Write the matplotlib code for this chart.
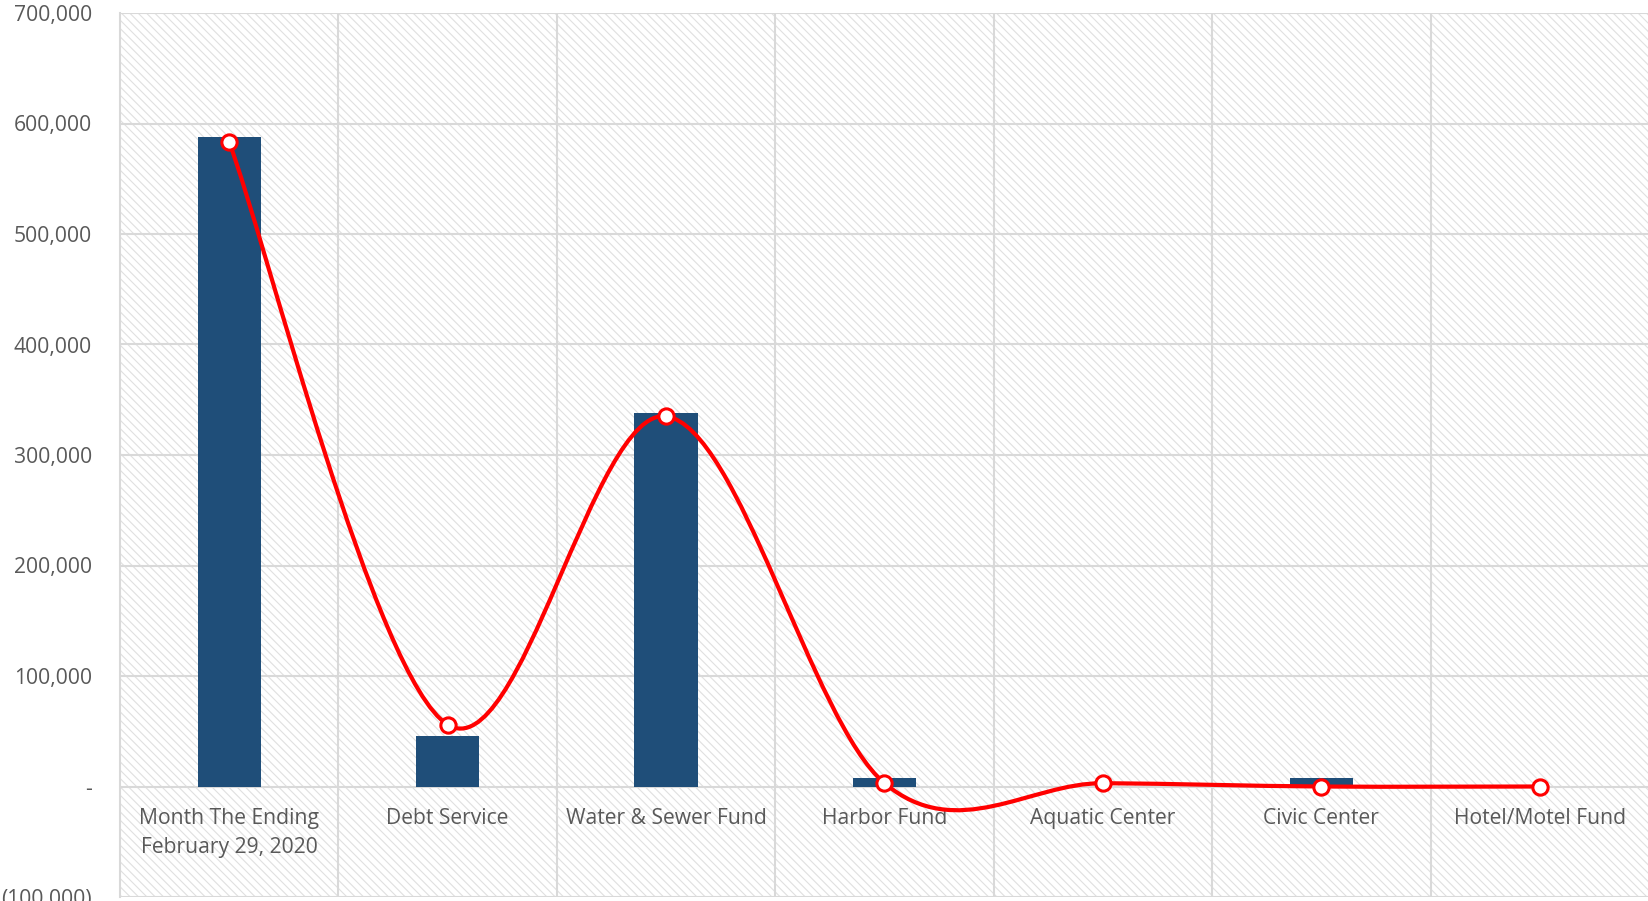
import numpy as np
import matplotlib
matplotlib.use('Agg')
import matplotlib.pyplot as plt
from matplotlib.path import Path
from matplotlib.patches import PathPatch, Rectangle
from matplotlib.ticker import FuncFormatter, MultipleLocator

categories = ['Month The Ending\nFebruary 29, 2020', 'Debt Service', 'Water & Sewer Fund',
              'Harbor Fund', 'Aquatic Center', 'Civic Center', 'Hotel/Motel Fund']
bar_values = [588000, 45500, 338000, 7500, 0, 7500, 0]
line_values = [583000, 56000, 335000, 3000, 3000, 0, 0]

plt.rcParams['font.family'] = ['Open Sans', 'DejaVu Sans']
plt.rcParams['hatch.linewidth'] = 0.8
txt = '#595959'
grid = '#d9d9d9'

fig = plt.figure(figsize=(16.49, 9.01), dpi=100)
ax = fig.add_axes([120 / 1649, 4 / 901, 1529 / 1649, 884 / 901])

x = np.arange(len(categories))

# hatched background
bg = Rectangle((0, 0), 1, 1, transform=ax.transAxes, fill=False, hatch='\\\\\\\\',
               edgecolor='#e0e0e0', linewidth=0, zorder=0)
ax.add_patch(bg)

ax.bar(x, bar_values, width=0.29, color='#1f4e79', zorder=3)

# smoothed line, excel style (catmull-rom as bezier segments)
pts = np.column_stack([x, line_values]).astype(float)
ext = np.vstack([pts[0], pts, pts[-1]])
verts = [tuple(pts[0])]
codes = [Path.MOVETO]
for i in range(len(pts) - 1):
    p0, p1, p2, p3 = ext[i], ext[i + 1], ext[i + 2], ext[i + 3]
    c1 = p1 + (p2 - p0) / 6
    c2 = p2 - (p3 - p1) / 6
    verts += [tuple(c1), tuple(c2), tuple(p2)]
    codes += [Path.CURVE4] * 3
ax.add_patch(PathPatch(Path(verts, codes), fill=False, edgecolor='#ff0000',
                       linewidth=3, zorder=4, capstyle='round'))
ax.plot(x, line_values, linestyle='none', marker='o', markersize=11,
        markerfacecolor='white', markeredgecolor='#ff0000', markeredgewidth=2.2, zorder=5)

ax.set_xlim(-0.5, 6.5)
ax.set_ylim(-100000, 700000)
ax.yaxis.set_major_locator(MultipleLocator(100000))


def fmt(v, pos):
    if abs(v) < 1:
        return '-'
    if v < 0:
        return '({:,.0f})'.format(-v)
    return '{:,.0f}'.format(v)


ax.yaxis.set_major_formatter(FuncFormatter(fmt))
ax.set_xticks(x)
ax.set_xticklabels(categories)
ax.set_xticks(np.arange(0.5, 6.5, 1), minor=True)

ax.spines['bottom'].set_position(('data', 0))
ax.spines['bottom'].set_visible(False)
for s in ['top', 'right']:
    ax.spines[s].set_visible(False)
ax.spines['left'].set_color(grid)
ax.spines['left'].set_linewidth(1.5)

ax.grid(axis='y', which='major', color=grid, linewidth=1.5, zorder=1)
ax.grid(axis='x', which='minor', color=grid, linewidth=1.5, zorder=1)
ax.set_axisbelow(True)
ax.tick_params(axis='both', which='both', length=0, labelsize=15.2, labelcolor=txt)
ax.tick_params(axis='y', pad=20)
ax.tick_params(axis='x', pad=15.5)
for lbl in ax.get_xticklabels():
    lbl.set_linespacing(1.5)

fig.savefig('out.png', dpi=100)
